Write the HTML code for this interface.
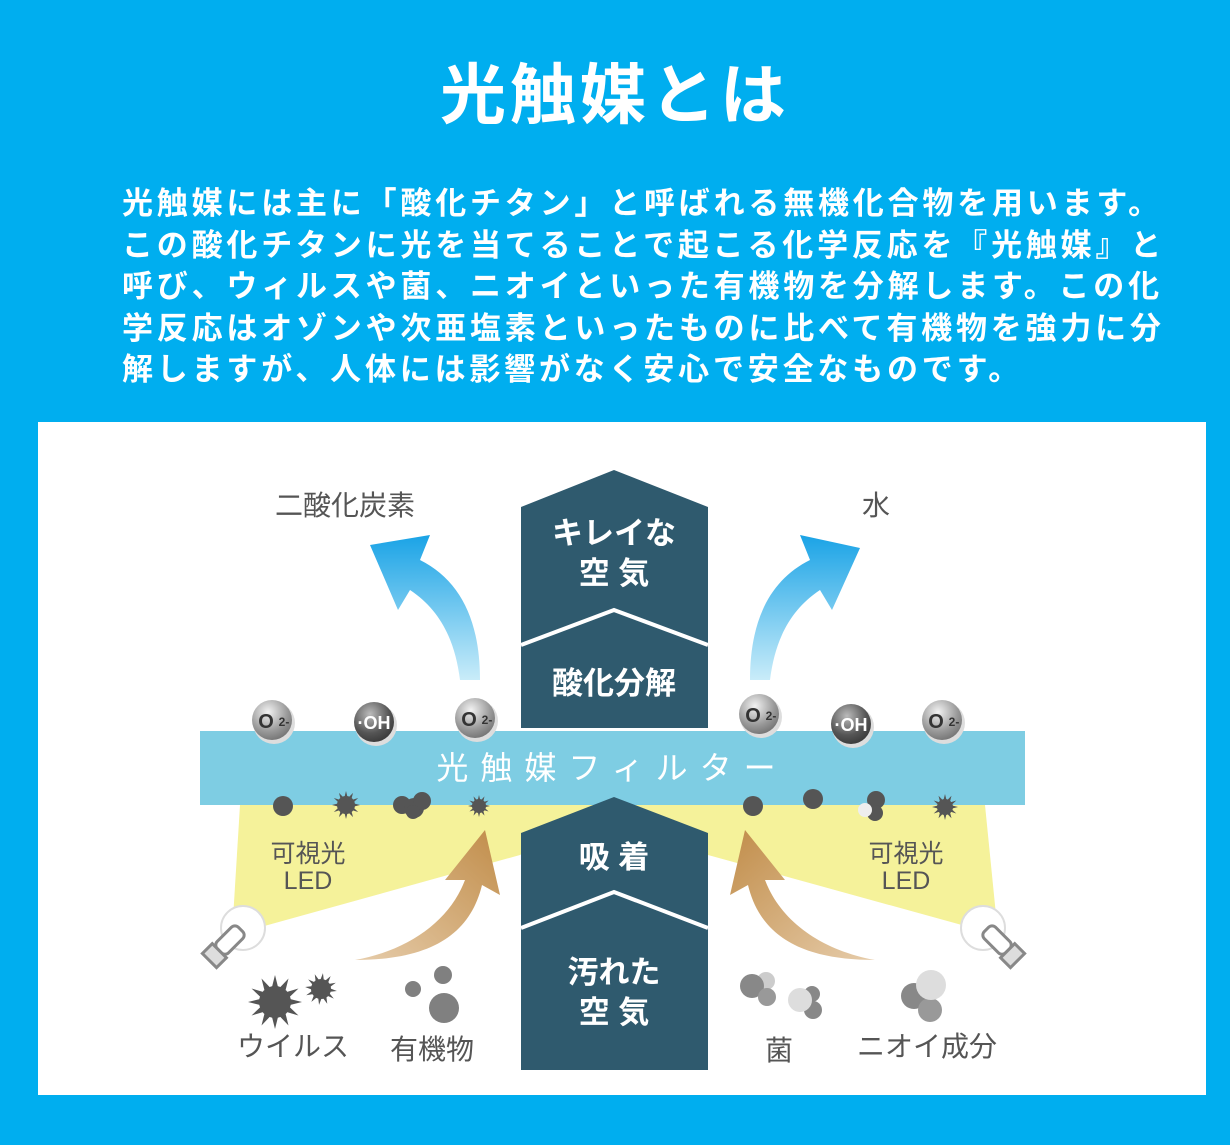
<!DOCTYPE html>
<html><head><meta charset="utf-8"><style>
html,body{margin:0;padding:0;}
body{width:1230px;height:1145px;background:#00aeef;position:relative;overflow:hidden;font-family:"Liberation Sans","Noto Sans CJK JP",sans-serif;}
h1{position:absolute;left:0;width:1230px;top:48px;margin:0;text-align:center;color:#fff;font-size:66px;font-weight:bold;letter-spacing:4px;line-height:84px;font-family:"Noto Sans CJK JP",sans-serif;}
.p{position:absolute;left:122px;top:180px;color:#fff;font-size:31px;font-weight:bold;line-height:41.5px;letter-spacing:3.8px;white-space:nowrap;font-family:"Noto Sans CJK JP",sans-serif;}
svg{position:absolute;left:0;top:0;}
</style></head><body>
<h1>光触媒とは</h1>
<div class="p">光触媒には主に「酸化チタン」と呼ばれる無機化合物を用います。<br>この酸化チタンに光を当てることで起こる化学反応を『光触媒』と<br>呼び、ウィルスや菌、ニオイといった有機物を分解します。この化<br>学反応はオゾンや次亜塩素といったものに比べて有機物を強力に分<br>解しますが、人体には影響がなく安心で安全なものです。</div>
<svg width="1230" height="1145" viewBox="0 0 1230 1145" font-family="Liberation Sans, Noto Sans CJK JP, sans-serif">
<defs>
<linearGradient id="bl" x1="0" y1="0" x2="0" y2="1"><stop offset="0" stop-color="#1aa3e6"/><stop offset="1" stop-color="#c9ecf9"/></linearGradient>
<linearGradient id="br" x1="1" y1="0" x2="0" y2="1"><stop offset="0" stop-color="#c18d4a"/><stop offset="1" stop-color="#e6ccaa"/></linearGradient>
<linearGradient id="br2" x1="0" y1="0" x2="1" y2="1"><stop offset="0" stop-color="#c18d4a"/><stop offset="1" stop-color="#e6ccaa"/></linearGradient>
<radialGradient id="sp" cx="0.4" cy="0.3" r="0.8"><stop offset="0" stop-color="#f2f2f2"/><stop offset="0.6" stop-color="#9a9a9a"/><stop offset="1" stop-color="#6a6a6a"/></radialGradient>
<radialGradient id="sd" cx="0.4" cy="0.3" r="0.8"><stop offset="0" stop-color="#bbb"/><stop offset="0.6" stop-color="#555"/><stop offset="1" stop-color="#333"/></radialGradient>
<polygon id="star" points="0,-1 0.13,-0.48 0.5,-0.87 0.37,-0.35 0.87,-0.5 0.48,-0.13 1,0 0.48,0.13 0.87,0.5 0.37,0.35 0.5,0.87 0.13,0.48 0,1 -0.13,0.48 -0.5,0.87 -0.37,0.35 -0.87,0.5 -0.48,0.13 -1,0 -0.48,-0.13 -0.87,-0.5 -0.37,-0.35 -0.5,-0.87 -0.13,-0.48"/>
</defs>
<rect x="38" y="422" width="1168" height="673" fill="#fff"/>
<polygon points="240,805 600,805 520,855 232,935" fill="#f5f29a"/>
<polygon points="635,805 985,805 998,935 708,855" fill="#f5f29a"/>
<rect x="200" y="731" width="825" height="74" fill="#7ecde3"/>
<text x="612" y="779" text-anchor="middle" fill="#fff" font-size="32" letter-spacing="12">光触媒フィルター</text>
<polygon points="521,507 614,470 708,507 708,728 521,728" fill="#2f5a6e"/>
<polyline points="521,645 614,610 708,645" fill="none" stroke="#fff" stroke-width="4"/>
<polygon points="521,833 614,797 708,833 708,1070 521,1070" fill="#2f5a6e"/>
<polyline points="521,928 614,892 708,928" fill="none" stroke="#fff" stroke-width="4"/>
<g fill="#fff" font-size="31" text-anchor="middle" font-weight="bold">
<text x="614" y="544">キレイな</text><text x="614" y="584">空 気</text>
<text x="614" y="694">酸化分解</text>
<text x="614" y="868">吸 着</text>
<text x="614" y="983">汚れた</text><text x="614" y="1023">空 気</text>
</g>
<path d="M480,680 C480,620 460,580 420,560 L430,535 L370,545 L398,610 L410,590 C440,610 455,640 460,680 Z" fill="url(#bl)"/>
<path d="M750,680 C750,620 770,580 810,560 L800,535 L860,548 L832,610 L820,590 C790,610 775,640 770,680 Z" fill="url(#bl)"/>
<path d="M355,960 C410,950 450,920 465,880 L445,880 L485,830 L500,895 L482,885 C470,935 430,960 355,960 Z" fill="url(#br)"/>
<path d="M875,960 C820,950 780,920 765,880 L785,880 L745,830 L730,895 L748,885 C760,935 800,960 875,960 Z" fill="url(#br2)"/>
<circle cx="243" cy="928" r="22" fill="#fff" stroke="#ddd" stroke-width="2"/>
<g transform="translate(225,945) rotate(45)"><rect x="-8" y="-22" width="16" height="30" rx="5" fill="#fff" stroke="#888" stroke-width="3"/><rect x="-10" y="8" width="20" height="14" fill="#ddd" stroke="#888" stroke-width="3"/></g>
<circle cx="983" cy="928" r="22" fill="#fff" stroke="#ddd" stroke-width="2"/>
<g transform="translate(1002,945) rotate(-45)"><rect x="-8" y="-22" width="16" height="30" rx="5" fill="#fff" stroke="#888" stroke-width="3"/><rect x="-10" y="8" width="20" height="14" fill="#ddd" stroke="#888" stroke-width="3"/></g>
<g font-weight="bold" text-anchor="middle" fill="#333">
<circle cx="274" cy="723" r="21" fill="#ddd"/><circle cx="272" cy="720" r="20" fill="url(#sp)"/><text x="266" y="728" font-size="20">O</text><text x="284" y="726" font-size="12">2-</text>
<circle cx="376" cy="725" r="21" fill="#ddd"/><circle cx="374" cy="722" r="20" fill="url(#sd)"/><text x="374" y="729" font-size="18" fill="#fff">·OH</text>
<circle cx="477" cy="721" r="21" fill="#ddd"/><circle cx="475" cy="718" r="20" fill="url(#sp)"/><text x="469" y="726" font-size="20">O</text><text x="487" y="724" font-size="12">2-</text>
<circle cx="761" cy="717" r="21" fill="#ddd"/><circle cx="759" cy="714" r="20" fill="url(#sp)"/><text x="753" y="722" font-size="20">O</text><text x="771" y="720" font-size="12">2-</text>
<circle cx="853" cy="727" r="21" fill="#ddd"/><circle cx="851" cy="724" r="20" fill="url(#sd)"/><text x="851" y="731" font-size="18" fill="#fff">·OH</text>
<circle cx="944" cy="723" r="21" fill="#ddd"/><circle cx="942" cy="720" r="20" fill="url(#sp)"/><text x="936" y="728" font-size="20">O</text><text x="954" y="726" font-size="12">2-</text>
</g>
<g fill="#555">
<circle cx="283" cy="806" r="10"/>
<use href="#star" transform="translate(346,805) scale(14)"/><circle cx="346" cy="805" r="9"/>
<circle cx="402" cy="805" r="9"/><circle cx="414" cy="808" r="10"/><circle cx="422" cy="801" r="9"/><circle cx="413" cy="812" r="7"/>
<use href="#star" transform="translate(479,806) scale(11)"/><circle cx="479" cy="806" r="7"/>
<circle cx="753" cy="806" r="10"/>
<circle cx="813" cy="799" r="10"/>
<circle cx="876" cy="800" r="9"/><circle cx="875" cy="813" r="8"/><circle cx="865" cy="810" r="7" fill="#eee"/>
<use href="#star" transform="translate(945,807) scale(13)"/><circle cx="945" cy="807" r="8"/>
</g>
<g>
<use href="#star" transform="translate(275,1002) scale(27)" fill="#555"/><circle cx="275" cy="1002" r="16" fill="#555"/>
<use href="#star" transform="translate(321,989) scale(16) rotate(7)" fill="#555"/><circle cx="321" cy="989" r="10" fill="#555"/>
<circle cx="413" cy="989" r="8" fill="#808080"/><circle cx="443" cy="975" r="9" fill="#808080"/><circle cx="444" cy="1008" r="15" fill="#808080"/>
<circle cx="766" cy="981" r="9" fill="#ccc"/><circle cx="752" cy="986" r="12" fill="#888"/><circle cx="767" cy="997" r="9" fill="#999"/>
<circle cx="812" cy="994" r="8" fill="#888"/><circle cx="813" cy="1010" r="9" fill="#888"/><circle cx="800" cy="1000" r="12" fill="#ddd"/>
<circle cx="914" cy="996" r="13" fill="#888"/><circle cx="930" cy="1010" r="12" fill="#999"/><circle cx="931" cy="985" r="15" fill="#ddd"/>
</g>
<g fill="#555" font-size="28" text-anchor="middle">
<text x="345" y="515">二酸化炭素</text>
<text x="876" y="515">水</text>
<text x="308" y="862" font-size="25">可視光</text><text x="308" y="889" font-size="25">LED</text>
<text x="906" y="862" font-size="25">可視光</text><text x="906" y="889" font-size="25">LED</text>
<text x="293" y="1056">ウイルス</text>
<text x="432" y="1059">有機物</text>
<text x="779" y="1060">菌</text>
<text x="927" y="1056">ニオイ成分</text>
</g>
</svg>
</body></html>
